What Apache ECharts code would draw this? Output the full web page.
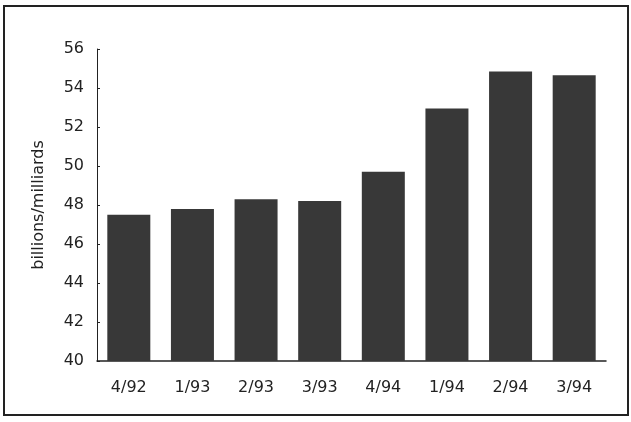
<!DOCTYPE html>
<html><head><meta charset="utf-8">
<script src="https://cdn.jsdelivr.net/npm/echarts@6/dist/echarts.min.js"></script>
<style>html,body{margin:0;padding:0;background:#fff}#c{width:631px;height:422px}</style>
</head><body><div id="c"></div>
<script>
var categories = ['4/92','1/93','2/93','3/93','4/94','1/94','2/94','3/94'];
var values = [47.5, 47.8, 48.3, 48.2, 49.7, 52.95, 54.85, 54.65];
var yTicks = {min: 40, max: 56, interval: 2};
var yName = 'billions/milliards';
var font = 'DejaVu Sans, Verdana, sans-serif';

var chart = echarts.init(document.getElementById('c'));
chart.setOption({
  animation: false,
  backgroundColor: '#fff',
  graphic: [{type:'rect', shape:{x:4, y:6, width:624, height:409}, style:{fill:'none', stroke:'#222', lineWidth:2}}],
  grid: {left: 97, right: 25, top: 49, bottom: 61},
  xAxis: {
    type: 'category', data: categories,
    axisLine: {show: true, lineStyle: {color: '#222', width: 1.5}},
    axisTick: {show: false},
    axisLabel: {color: '#222', fontFamily: font, fontSize: 16, margin: 19}
  },
  yAxis: {
    type: 'value', min: yTicks.min, max: yTicks.max, interval: yTicks.interval,
    name: yName, nameLocation: 'middle', nameGap: 50, nameRotate: 90,
    nameTextStyle: {color: '#222', fontFamily: font, fontSize: 16},
    axisLine: {show: true, lineStyle: {color: '#222', width: 1}},
    axisTick: {show: true, inside: true, length: 3, lineStyle: {color: '#222'}},
    splitLine: {show: false},
    axisLabel: {color: '#222', fontFamily: font, fontSize: 16, margin: 13}
  },
  series: [{
    type: 'bar', data: values, barWidth: 43,
    itemStyle: {color: '#383838'}
  }]
});
</script></body></html>
